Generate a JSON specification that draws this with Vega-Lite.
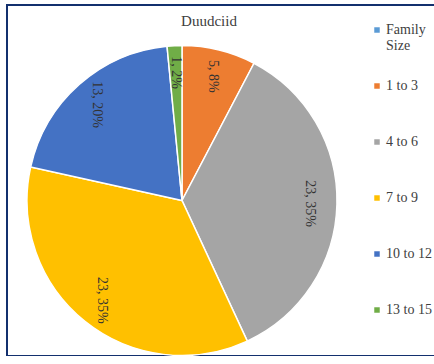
{
  "$schema": "https://vega.github.io/schema/vega-lite/v6.json",
  "width": 430,
  "height": 351,
  "autosize": {"type": "none"},
  "padding": {"left": 7, "top": 5, "right": 0, "bottom": 0},
  "config": {
    "view": {"stroke": "#13306e", "strokeWidth": 2},
    "font": "Liberation Serif"
  },
  "title": {
    "text": "Duudciid",
    "fontSize": 15,
    "fontWeight": "normal",
    "color": "#404040",
    "font": "Liberation Serif",
    "anchor": "middle",
    "dx": -13,
    "offset": -24
  },
  "data": {
    "values": [
      {"size": "1 to 3", "count": 5, "k": 1, "label": "5, 8%"},
      {"size": "4 to 6", "count": 23, "k": 2, "label": "23, 35%"},
      {"size": "7 to 9", "count": 23, "k": 3, "label": "23, 35%"},
      {"size": "10 to 12", "count": 13, "k": 4, "label": "13, 20%"},
      {"size": "13 to 15", "count": 1, "k": 5, "label": "1, 2%"}
    ]
  },
  "layer": [
    {
      "mark": {"type": "point", "opacity": 0},
      "encoding": {
        "x": {"field": "k", "type": "quantitative", "axis": null},
        "y": {"field": "count", "type": "quantitative", "axis": null}
      }
    },
    {
      "mark": {"type": "arc", "outerRadius": 155, "xOffset": -40, "yOffset": 20, "stroke": "white", "strokeWidth": 1.5},
      "encoding": {
        "theta": {"field": "count", "type": "quantitative", "stack": true},
        "order": {"field": "k", "type": "quantitative"},
        "color": {
          "field": "size",
          "type": "nominal",
          "scale": {
            "domain": ["Family Size", "1 to 3", "4 to 6", "7 to 9", "10 to 12", "13 to 15"],
            "range": ["#5b9bd5", "#ed7d31", "#a5a5a5", "#ffc000", "#4472c4", "#70ad47"]
          },
          "legend": {
            "orient": "none",
            "legendX": 363,
            "legendY": 18,
            "title": null,
            "padding": 0,
            "symbolType": "square",
            "symbolSize": 30,
            "symbolStrokeWidth": 0,
            "labelFont": "Liberation Serif",
            "labelFontSize": 14,
            "labelColor": "#404040",
            "labelOffset": 2,
            "labelLimit": 100,
            "rowPadding": 26,
            "labelExpr": "datum.label == 'Family Size' ? ['Family', 'Size'] : [datum.label, '']"
          }
        }
      }
    },
    {
      "mark": {"type": "text", "radius": 128, "xOffset": -40, "yOffset": 20, "angle": 90, "fontSize": 14, "color": "#333333", "font": "Liberation Serif"},
      "encoding": {
        "theta": {"field": "count", "type": "quantitative", "stack": true},
        "order": {"field": "k", "type": "quantitative"},
        "text": {"field": "label", "type": "nominal"}
      }
    }
  ]
}
